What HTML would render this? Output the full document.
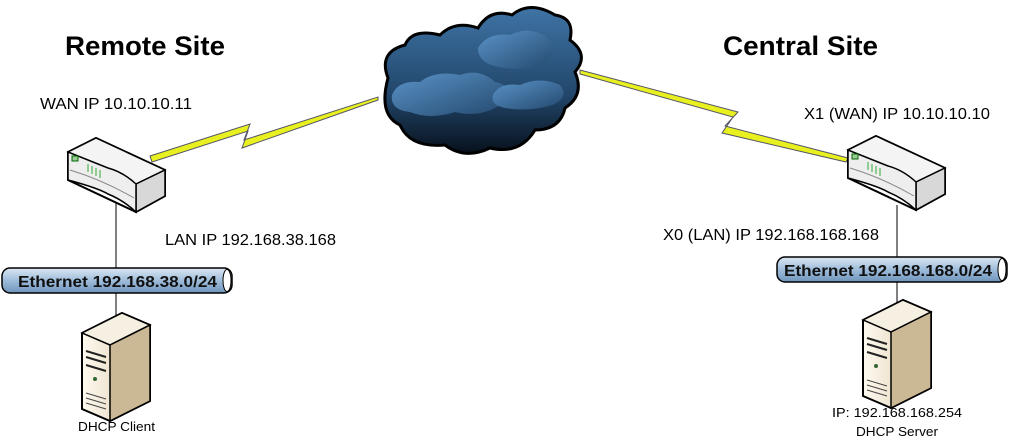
<!DOCTYPE html>
<html><head><meta charset="utf-8"><style>
html,body{margin:0;padding:0;background:#fff;}
svg{display:block;font-family:"Liberation Sans",sans-serif;}
</style></head><body>
<svg width="1009" height="442" viewBox="0 0 1009 442" xmlns="http://www.w3.org/2000/svg">
<defs>
<linearGradient id="cl" x1="0" y1="0" x2="0" y2="1">
<stop offset="0" stop-color="#3f74a6"/><stop offset="0.6" stop-color="#22466a"/><stop offset="1" stop-color="#07111c"/></linearGradient>
<linearGradient id="cl2" x1="0" y1="0" x2="1" y2="1">
<stop offset="0" stop-color="#5a93c8"/><stop offset="1" stop-color="#24496e"/></linearGradient>
<linearGradient id="pipe" x1="0" y1="0" x2="0" y2="1">
<stop offset="0" stop-color="#dbe7f3"/><stop offset="0.5" stop-color="#9fbddb"/><stop offset="1" stop-color="#6f94bb"/></linearGradient>
<linearGradient id="srv" x1="0" y1="0" x2="1" y2="0">
<stop offset="0" stop-color="#fffaf0"/><stop offset="1" stop-color="#d8c8a8"/></linearGradient>
<g id="router">
<polygon points="0,14 28,0 97,32 97,58 68,74 0,42" fill="#fff" stroke="#000" stroke-width="2"/>
<polygon points="0,14 28,0 97,32 68,46" fill="#f4f4f4" stroke="#000" stroke-width="1.5"/>
<polygon points="68,46 97,32 97,58 68,74" fill="#d8d8d8" stroke="#000" stroke-width="1.5"/>
<path d="M0,14 L0,42 Q30,50 40,56 Q55,62 68,74 L68,46 Q55,34 40,30 Q20,22 0,14Z" fill="#eee" stroke="#000" stroke-width="1.5"/>
<rect x="4" y="18" width="6" height="5" fill="#9c9" stroke="#060" stroke-width="1"/>
<path d="M20,26v8M24,28v8M28,30v8M32,32v8" stroke="#3a3" stroke-width="1"/>
<path d="M2,32 Q35,42 66,60" stroke="#888" fill="none"/>
</g>
<g id="server">
<polygon points="0,20 40,0 68,12 68,88 28,108 0,96" fill="url(#srv)" stroke="#000" stroke-width="2"/>
<polygon points="0,20 40,0 68,12 28,32" fill="#f6f0e2" stroke="#000" stroke-width="1.5"/>
<polygon points="28,32 68,12 68,88 28,108" fill="#cbb995" stroke="#000" stroke-width="1.5"/>
<path d="M4,38 L24,44 M4,44 L24,50 M4,52 L24,58" stroke="#222" stroke-width="2"/>
<circle cx="13" cy="66" r="2" fill="#363"/>
<path d="M4,80 L24,86 M4,85 L24,91 M4,90 L24,96" stroke="#444" stroke-width="1"/>
</g>
</defs>
<text x="65" y="55" font-size="27" font-weight="bold" textLength="160" lengthAdjust="spacingAndGlyphs">Remote Site</text>
<text x="723" y="55" font-size="27" font-weight="bold" textLength="155" lengthAdjust="spacingAndGlyphs">Central Site</text>
<text x="40" y="109" font-size="16" textLength="152" lengthAdjust="spacingAndGlyphs">WAN IP 10.10.10.11</text>
<text x="165" y="245" font-size="16" textLength="171" lengthAdjust="spacingAndGlyphs">LAN IP 192.168.38.168</text>
<text x="804" y="119" font-size="16" textLength="186" lengthAdjust="spacingAndGlyphs">X1 (WAN) IP 10.10.10.10</text>
<text x="663" y="240" font-size="16" textLength="216" lengthAdjust="spacingAndGlyphs">X0 (LAN) IP 192.168.168.168</text>
<!-- lightning links -->
<polygon points="150,156 250,124 244,140 378,97 378,100 242,148 248,131 152,162" fill="#e8f020" stroke="#556" stroke-width="1"/>
<polygon points="580,70 738,112 725,126 848,158 846,162 722,133 733,117 580,74" fill="#e8f020" stroke="#556" stroke-width="1"/>
<!-- cloud -->
<path d="M388,78 Q378,52 405,45 Q412,28 440,35 Q455,20 478,28 Q490,8 512,15 Q530,0 555,15 Q575,18 570,40 Q590,55 575,72 Q585,95 565,108 Q560,130 535,130 Q520,155 490,148 Q465,160 445,145 Q410,148 400,125 Q378,115 388,78Z" fill="url(#cl)" stroke="#000" stroke-width="3"/>
<path d="M392,95 Q398,80 420,82 Q435,70 460,75 Q480,68 495,82 Q515,85 500,105 Q480,118 455,112 Q430,120 410,112 Q390,110 392,95Z" fill="url(#cl2)"/>
<path d="M478,48 Q488,32 510,35 Q530,25 548,38 Q560,50 545,62 Q530,72 505,68 Q478,65 478,48Z" fill="url(#cl2)"/>
<path d="M493,95 Q500,82 520,85 Q540,76 560,85 Q570,98 552,105 Q530,112 505,108 Q490,105 493,95Z" fill="url(#cl2)"/>
<!-- vertical lines -->
<line x1="116" y1="200" x2="116" y2="315" stroke="#000"/>
<line x1="897" y1="205" x2="897" y2="302" stroke="#000"/>
<use href="#router" x="68" y="138"/>
<use href="#router" x="848" y="136"/>
<!-- pipes -->
<rect x="2" y="268" width="230" height="25" rx="8" fill="url(#pipe)" stroke="#000" stroke-width="1.5"/>
<ellipse cx="227" cy="280.5" rx="4" ry="11" fill="#fff" stroke="#000"/>
<text x="18" y="287" font-size="16" font-weight="bold" fill="#111" textLength="199" lengthAdjust="spacingAndGlyphs">Ethernet 192.168.38.0/24</text>
<rect x="777" y="257" width="230" height="25" rx="8" fill="url(#pipe)" stroke="#000" stroke-width="1.5"/>
<ellipse cx="1002" cy="269.5" rx="4" ry="11" fill="#fff" stroke="#000"/>
<text x="784" y="276" font-size="16" font-weight="bold" fill="#111" textLength="208" lengthAdjust="spacingAndGlyphs">Ethernet 192.168.168.0/24</text>
<use href="#server" x="82" y="313"/>
<use href="#server" x="863" y="300"/>
<text x="78" y="431" font-size="13" textLength="77" lengthAdjust="spacingAndGlyphs">DHCP Client</text>
<text x="832" y="417" font-size="13" textLength="130" lengthAdjust="spacingAndGlyphs">IP: 192.168.168.254</text>
<text x="856" y="436" font-size="13" textLength="82" lengthAdjust="spacingAndGlyphs">DHCP Server</text>
</svg>
</body></html>
